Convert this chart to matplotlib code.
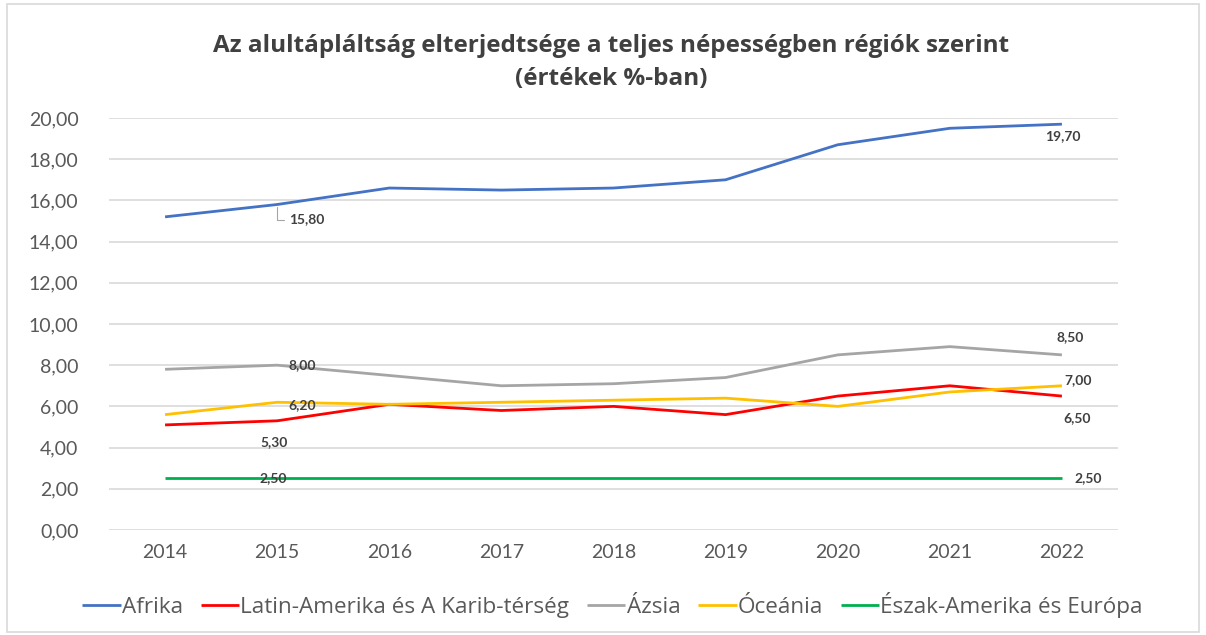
import matplotlib
matplotlib.use("Agg")
import matplotlib.pyplot as plt
from matplotlib.patches import Rectangle

plt.rcParams['font.family'] = ['Lato', 'DejaVu Sans']

# Data (values in %)
years = ["2014", "2015", "2016", "2017", "2018", "2019", "2020", "2021", "2022"]
afrika = [15.2, 15.8, 16.6, 16.5, 16.6, 17.0, 18.7, 19.5, 19.7]
latin = [5.1, 5.3, 6.1, 5.8, 6.0, 5.6, 6.5, 7.0, 6.5]
azsia = [7.8, 8.0, 7.5, 7.0, 7.1, 7.4, 8.5, 8.9, 8.5]
oceania = [5.6, 6.2, 6.1, 6.2, 6.3, 6.4, 6.0, 6.7, 7.0]
eszak = [2.5, 2.5, 2.5, 2.5, 2.5, 2.5, 2.5, 2.5, 2.5]

names = ["Afrika", "Latin-Amerika és A Karib-térség", "Ázsia", "Óceánia",
         "Észak-Amerika és Európa"]
colors = ["#4472C4", "#FF0000", "#A5A5A5", "#FFC000", "#00B050"]
series = [afrika, latin, azsia, oceania, eszak]

fig = plt.figure(figsize=(12.06, 6.35), dpi=100)
ax = fig.add_axes([0.0904, 0.1654, 0.8366, 0.6488])

x = list(range(len(years)))
for vals, name, c in zip(series, names, colors):
    ax.plot(x, vals, color=c, lw=2.0, label=name, solid_capstyle='butt')

ax.set_xlim(-0.5, len(years) - 0.5)
ax.set_ylim(0, 20)
ax.set_yticks(range(0, 21, 2))
ax.set_yticklabels([f"{v:.2f}".replace(".", ",") for v in range(0, 21, 2)])
ax.set_xticks(x)
ax.set_xticklabels(years)
ax.tick_params(length=0, labelsize=14, colors="#595959", pad=10)
ax.tick_params(axis='y', pad=22)
ax.grid(axis='y', color="#D9D9D9", lw=1.2)
ax.set_axisbelow(True)
for s in ax.spines.values():
    s.set_visible(False)

def lab(i, vals, dx, dy, ha="center", va="center"):
    ax.annotate(f"{vals[i]:.2f}".replace(".", ","), (i, vals[i]),
                xytext=(dx, dy), textcoords="offset pixels", ha=ha, va=va,
                fontsize=10, fontweight="bold", color="#404040")

# data labels
ax.annotate("15,80", (1, afrika[1]), xytext=(12, -15), textcoords="offset pixels",
            ha="left", va="center", fontsize=10, fontweight="bold", color="#404040",
            arrowprops=dict(arrowstyle="-", color="#A5A5A5", lw=0.8,
                            connectionstyle="angle,angleA=0,angleB=90,rad=0",
                            shrinkA=2, shrinkB=2))
lab(8, afrika, 1, -12)
lab(1, azsia, 11, 0, ha="left")
lab(1, oceania, 11, -3, ha="left")
lab(1, latin, -3, -21)
lab(1, eszak, -4, 0)
lab(8, azsia, 8, 18)
lab(8, oceania, 16, 6)
lab(8, latin, 15, -22)
lab(8, eszak, 13, 0, ha="left")

title_font = ['Open Sans', 'DejaVu Sans']
fig.text(0.507, 0.928, "Az alultápláltság elterjedtsége a teljes népességben régiók szerint",
         ha="center", va="center", fontsize=17.5, fontweight="bold", color="#404040",
         family=title_font)
fig.text(0.507, 0.876, "(értékek %-ban)", ha="center", va="center",
         fontsize=17.5, fontweight="bold", color="#404040", family=title_font)

fig.legend(loc="center", bbox_to_anchor=(0.508, 0.047), ncol=5, frameon=False,
           prop={'family': title_font, 'size': 16.2}, handlelength=1.7,
           handletextpad=0.05, columnspacing=0.8, labelcolor="#595959")

fig.patches.append(Rectangle((0.006, 0.004), 0.988, 0.99, transform=fig.transFigure,
                             fill=False, edgecolor="#D9D9D9", lw=1.2))

fig.savefig("out.png", dpi=100, facecolor="white")
